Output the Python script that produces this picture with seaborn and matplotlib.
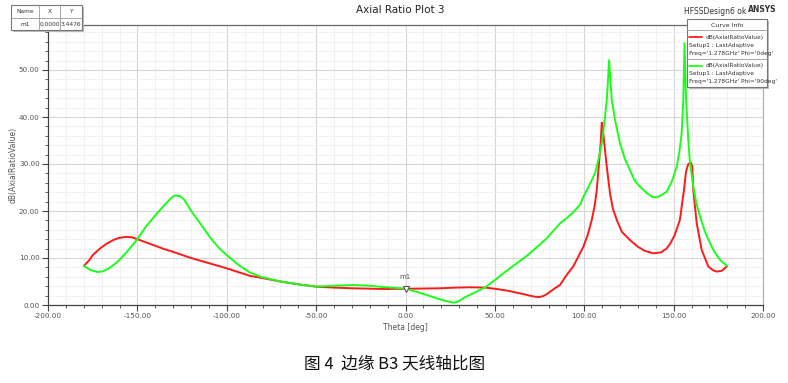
import numpy as np
import pandas as pd
import matplotlib
matplotlib.use("Agg")
import matplotlib.pyplot as plt
import seaborn as sns
from matplotlib.patches import Rectangle
from matplotlib.lines import Line2D
from matplotlib.ticker import MultipleLocator, FormatStrFormatter

# ---- data ----
theta_phi0 = [-180, -177, -175, -171, -167, -163, -160, -156, -153, -150, -145, -140, -135, -130,
              -120, -110, -100, -87, -81,
              -70, -60, -50, -40, -29, -12, 0, 10, 19, 28, 36, 45, 51, 57, 65, 70, 72.5, 75,
              77, 79, 83, 86.5, 90, 94, 97.6, 99.5, 102, 104.2, 106, 107, 108.4, 109.2,
              109.8, 110.4, 111, 112.6, 114.4, 116, 118.2, 121, 125.6, 130, 134, 138.6,
              143, 146, 148, 150.5, 153.5, 155.8, 157, 158.2, 159.6, 160.4, 161, 162.9, 165.7,
              169.4, 172, 174.1, 177, 180]
ar_phi0 = [8.3, 9.5, 10.6, 12.0, 13.1, 13.9, 14.3, 14.5, 14.4, 14.0, 13.3, 12.6, 11.9, 11.3,
           10.0, 8.9, 7.8, 6.2, 5.8,
           5.0, 4.4, 3.9, 3.7, 3.55, 3.4, 3.45, 3.5, 3.55, 3.7, 3.77, 3.7, 3.4, 3.05, 2.4, 1.95, 1.75, 1.7,
           1.9, 2.3, 3.4, 4.3, 6.3, 8.3, 11.0, 12.4, 15.0, 18.1, 21.5, 24.5, 30.9, 34.5,
           38.8, 37.5, 35.2, 29.4, 23.8, 20.5, 18.1, 15.6, 13.8, 12.4, 11.5, 11.0,
           11.2, 12.0, 13.0, 14.8, 18.1, 24.5, 28.5, 30.0, 30.3, 29.5, 24.5, 17.4, 11.7,
           8.2, 7.4, 7.1, 7.3, 8.3]

theta_phi90 = [-180, -176, -172, -169, -166, -163, -160, -155, -150, -145, -139, -134, -131, -129,
               -126, -124, -119,
               -114, -109, -104, -100, -93, -87, -81, -70, -60, -50, -40, -29, -20, -12,
               0, 8, 16, 22, 25, 27, 29, 33, 39, 44.5, 50, 57, 62, 68, 75, 79, 86.5, 90, 94,
               97.6, 99.5, 103, 106, 108, 109.8, 111, 111.6, 112.6, 113.3, 113.9, 114.6,
               115.4, 117.2, 120, 122.8, 125.6, 128.3, 131.2, 135, 138.6, 142, 146.1,
               149, 151.7, 153.2, 154.5, 155.4, 156.1, 156.9, 158.2, 159.2, 161, 162.8,
               164.8, 167.5, 170.4, 173, 176, 178, 180]
ar_phi90 = [8.3, 7.4, 7.0, 7.2, 7.8, 8.6, 9.6, 11.7, 14.0, 16.8, 19.5, 21.6, 22.8, 23.3,
            23.1, 22.5, 19.5,
            16.9, 14.2, 12.0, 10.6, 8.4, 6.9, 6.0, 5.0, 4.4, 3.9, 4.1, 4.25, 4.1, 3.8,
            3.5, 2.6, 1.6, 0.9, 0.65, 0.5, 0.65, 1.6, 2.7, 3.75, 5.3, 7.4, 8.8, 10.5, 12.8, 14.2, 17.4, 18.4, 19.8,
            21.3, 23.0, 25.6, 28.0, 31.0, 34.4, 38.0, 40.0, 43.6, 48.0, 52.1, 48.0,
            43.6, 39.4, 34.4, 31.0, 28.7, 26.4, 25.2, 23.8, 22.9, 23.1, 24.1,
            26.3, 29.4, 32.5, 36.5, 43.6, 55.7, 44.3, 35.1, 30.1, 25.2, 21.5,
            18.8, 15.6, 13.1, 11.2, 9.6, 8.9, 8.3]

series_names = ["Phi='0deg'", "Phi='90deg'"]
series_colors = ["#ff1a1a", "#1aff1a"]
x_ticks = [-200, -150, -100, -50, 0, 50, 100, 150, 200]
y_ticks = [0, 10, 20, 30, 40, 50]
marker_x, marker_y = 0.0, 3.4476

df = pd.concat([
    pd.DataFrame({"Theta": theta_phi0, "AR": ar_phi0, "curve": series_names[0]}),
    pd.DataFrame({"Theta": theta_phi90, "AR": ar_phi90, "curve": series_names[1]}),
], ignore_index=True)

sns.set_theme(style="white")
plt.rcParams['font.family'] = ['DejaVu Sans']

W, H = 788, 383
fig = plt.figure(figsize=(W / 100, H / 100), dpi=100)
ax = fig.add_axes([48 / W, 1 - 305 / H, (763 - 48) / W, (305 - 25) / H])

sns.lineplot(data=df, x="Theta", y="AR", hue="curve", palette=dict(zip(series_names, series_colors)),
             sort=False, legend=False, linewidth=1.4, ax=ax, zorder=3)

ax.set_xlim(-200, 200)
ax.set_ylim(0, (305 - 25) / 4.7)
ax.set_xticks(x_ticks)
ax.set_yticks(y_ticks)
ax.xaxis.set_minor_locator(MultipleLocator(10))
ax.yaxis.set_minor_locator(MultipleLocator(2))
ax.xaxis.set_major_formatter(FormatStrFormatter('%.2f'))
ax.yaxis.set_major_formatter(FormatStrFormatter('%.2f'))
ax.grid(which='major', color='#d6d6d6', linewidth=0.8, zorder=0)
ax.grid(which='minor', color='#efefef', linewidth=0.6, zorder=0)
ax.set_axisbelow(True)
ax.tick_params(which='major', direction='out', length=4, width=0.8, color='#444444',
               labelsize=5.2, labelcolor='#555555', pad=2, bottom=True, left=True)
ax.tick_params(which='minor', direction='out', length=2, width=0.6, color='#444444',
               bottom=True, left=True)
for s in ['left', 'bottom']:
    ax.spines[s].set_color('#444444')
    ax.spines[s].set_linewidth(0.9)
ax.spines['top'].set_color('#666666')
ax.spines['top'].set_linewidth(0.9)
ax.spines['right'].set_color('#aaaaaa')
ax.spines['right'].set_linewidth(0.8)
ax.set_xlabel("Theta [deg]", fontsize=5.5, color='#555555', labelpad=3)
ax.set_ylabel("dB(AxialRatioValue)", fontsize=5.5, color='#555555')
ax.yaxis.set_label_coords(-0.042, 0.5)

# marker m1
ax.plot([marker_x], [marker_y], marker='v', markersize=5, markerfacecolor='white',
        markeredgecolor='#555555', markeredgewidth=0.8, zorder=5)
ax.annotate("m1", (marker_x, marker_y), xytext=(0, 6), textcoords='offset points',
            ha='center', va='bottom', fontsize=5, color='#555555', zorder=5)

# title and header texts
fig.text(400 / W, 1 - 10 / H, "Axial Ratio Plot 3", ha='center', va='center', fontsize=7.5, color='#222222')
fig.text(715 / W, 1 - 11 / H, "HFSSDesign6 ok", ha='center', va='center', fontsize=5.5, color='#333333')
fig.text(762 / W, 1 - 9 / H, "ANSYS", ha='center', va='center', fontsize=5.5, color='#333333', fontweight='bold')

# marker table (top-left)
def frect(x0, y0, x1, y1, **kw):
    r = Rectangle((x0 / W, 1 - y1 / H), (x1 - x0) / W, (y1 - y0) / H, transform=fig.transFigure, **kw)
    fig.add_artist(r)

def fline(x0, y0, x1, y1, **kw):
    fig.add_artist(Line2D([x0 / W, x1 / W], [1 - y0 / H, 1 - y1 / H], transform=fig.transFigure, **kw))

frect(13, 7, 84, 32, facecolor='#bbbbbb', edgecolor='none', zorder=9)
frect(11, 5, 82, 30, facecolor='white', edgecolor='#777777', linewidth=0.8, zorder=10)
fline(11, 17.5, 82, 17.5, color='#999999', linewidth=0.6, zorder=11)
fline(39, 5, 39, 30, color='#999999', linewidth=0.6, zorder=11)
fline(60, 5, 60, 30, color='#999999', linewidth=0.6, zorder=11)
for xc, t in [(25, "Name"), (49.5, "X"), (71, "Y")]:
    fig.text(xc / W, 1 - 11.5 / H, t, ha='center', va='center', fontsize=4.2, color='#333333', zorder=12)
for xc, t in [(25, "m1"), (49.5, "0.0000"), (71, "3.4476")]:
    fig.text(xc / W, 1 - 24 / H, t, ha='center', va='center', fontsize=4.2, color='#333333', zorder=12)

# curve info legend box (top-right)
frect(689, 21, 769, 89, facecolor='#bbbbbb', edgecolor='none', zorder=9)
frect(687, 19, 767, 87, facecolor='white', edgecolor='#777777', linewidth=0.8, zorder=10)
fig.text(727 / W, 1 - 25.5 / H, "Curve Info", ha='center', va='center', fontsize=4.5, color='#333333', zorder=12)
fline(687, 30, 767, 30, color='#999999', linewidth=0.6, zorder=11)
fline(687, 58.5, 767, 58.5, color='#999999', linewidth=0.6, zorder=11)
for i, (nm, col) in enumerate(zip(series_names, series_colors)):
    y0 = 37 + i * 29
    fline(689, y0, 702, y0, color=col, linewidth=1.3, zorder=12)
    fig.text(706 / W, 1 - y0 / H, "dB(AxialRatioValue)", ha='left', va='center', fontsize=4.2, color='#333333', zorder=12)
    fig.text(689 / W, 1 - (y0 + 8) / H, "Setup1 : LastAdaptive", ha='left', va='center', fontsize=4.2, color='#333333', zorder=12)
    fig.text(689 / W, 1 - (y0 + 16) / H, "Freq='1.278GHz' " + nm, ha='left', va='center', fontsize=4.2, color='#333333', zorder=12)

# caption
fig.text(395 / W, 1 - 364 / H, "图 4  边缘 B3 天线轴比图", ha='center', va='center', fontsize=12,
         color='#111111', family=['Noto Sans CJK SC', 'DejaVu Sans'])

fig.savefig("out.png", dpi=100, facecolor='white')
